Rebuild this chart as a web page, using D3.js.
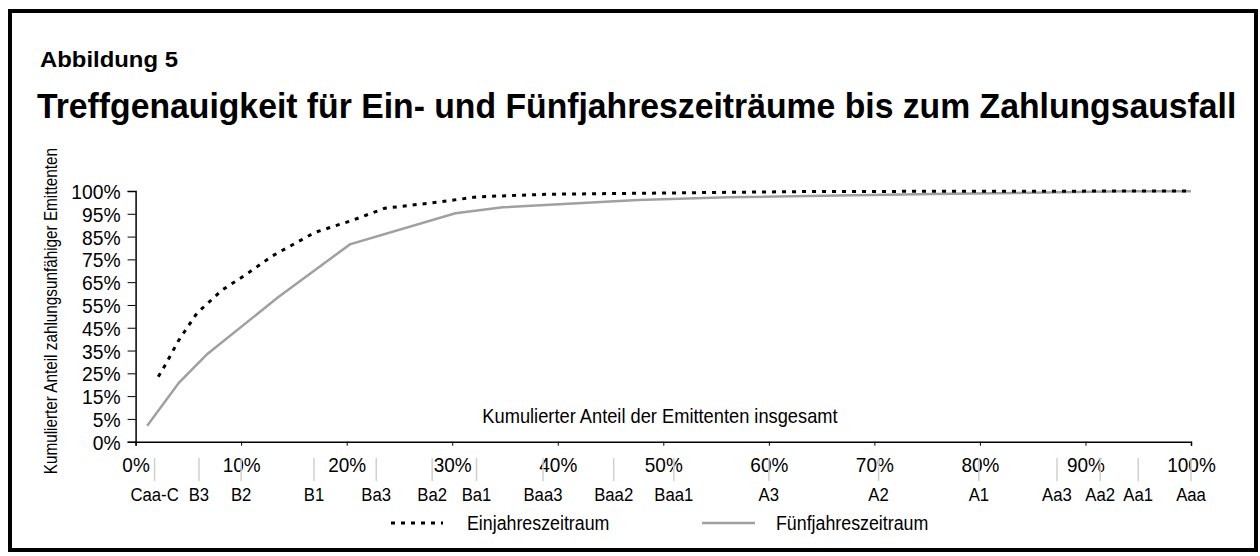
<!DOCTYPE html>
<html>
<head>
<meta charset="utf-8">
<script src="https://cdn.jsdelivr.net/npm/d3@7"></script>
<style>
  body { margin: 0; background: #fff; }
  svg text { font-family: "Liberation Sans", Arial, sans-serif; fill: #000; }
</style>
</head>
<body>
<svg></svg>
<script>
// cumulative accuracy profile, 1 year vs 5 years

var xTicks = [0, 0.1, 0.2, 0.3, 0.4, 0.5, 0.6, 0.7, 0.8, 0.9, 1.0];
var yTickLabels = ['0%', '5%', '15%', '25%', '35%', '45%', '55%', '65%', '75%', '85%', '95%', '100%'];

var ratingLabels = ['Caa-C', 'B3', 'B2', 'B1', 'Ba3', 'Ba2', 'Ba1', 'Baa3', 'Baa2', 'Baa1',
                    'A3', 'A2', 'A1', 'Aa3', 'Aa2', 'Aa1', 'Aaa'];
var ratingPos = [0.018, 0.060, 0.100, 0.169, 0.228, 0.281, 0.323, 0.386, 0.453, 0.510,
                 0.600, 0.704, 0.799, 0.873, 0.914, 0.950, 1.0];

// Einjahreszeitraum (dotted)
var einX = [0.0215, 0.029, 0.0405, 0.058, 0.082, 0.105, 0.130, 0.170, 0.206, 0.236, 0.277, 0.325, 0.389, 0.478, 0.640, 0.800, 1.0];
var einY = [0.259, 0.313, 0.402, 0.512, 0.605, 0.668, 0.742, 0.835, 0.884, 0.931, 0.951, 0.977, 0.987, 0.991, 0.998, 0.999, 1.0];

// Fuenfjahreszeitraum (grey solid)
var fuenfX = [0.011, 0.041, 0.068, 0.135, 0.203, 0.303, 0.348, 0.476, 0.562, 0.756, 0.850, 0.936, 1.0];
var fuenfY = [0.064, 0.235, 0.350, 0.576, 0.787, 0.911, 0.935, 0.964, 0.975, 0.988, 0.993, 0.999, 0.999];

var width = 1260;
var height = 556;
var svg = d3.select('svg')
    .attr('width', width)
    .attr('height', height);

// narrow look: squeeze glyphs horizontally (no condensed font installed)
function squeeze(sel, k, pre) {
  sel.each(function() {
    var t = d3.select(this);
    var x0 = +t.attr('x') || 0;
    t.attr('x', x0 / k)
     .attr('transform', (pre || '') + ` scale(${k},1)`);
  });
}
// squeeze a text so it is exactly w pixels wide
function fitTo(sel, w) {
  var len = sel.node().getComputedTextLength();
  squeeze(sel, w / len);
}

// frame
svg.append('rect')
    .attr('x', 10).attr('y', 11)
    .attr('width', 1246).attr('height', 539)
    .attr('fill', 'none')
    .attr('stroke', '#000')
    .attr('stroke-width', 4);

svg.append('text')
    .attr('x', 40).attr('y', 67)
    .attr('font-size', 22).attr('font-weight', 'bold')
    .text('Abbildung 5')
    .call(fitTo, 138);

svg.append('text')
    .attr('x', 37).attr('y', 118)
    .attr('font-size', 35).attr('font-weight', 'bold')
    .text('Treffgenauigkeit für Ein- und Fünfjahreszeiträume bis zum Zahlungsausfall')
    .call(fitTo, 1200);

var x = d3.scaleLinear().domain([0, 1]).range([135.6, 1191]);
var y = d3.scaleLinear().domain([0, 1]).range([441.7, 191]);
// y labels sit on equally spaced ticks
var yTick = d3.scaleLinear().domain([0, yTickLabels.length - 1]).range([441.7, 191]);

// y axis
var yAxis = d3.axisLeft(yTick)
    .tickValues(d3.range(yTickLabels.length))
    .tickFormat(i => yTickLabels[i])
    .tickSize(8)
    .tickPadding(7);
var gy = svg.append('g')
    .attr('transform', `translate(${x(0)},0)`)
    .call(yAxis);
gy.select('.domain').attr('stroke', '#000').attr('stroke-width', 1.5);
gy.selectAll('.tick line').attr('stroke', '#000');
gy.selectAll('text').attr('font-size', 21).attr('dy', '0.36em').call(squeeze, 0.92);

// x axis
var xAxis = d3.axisBottom(x)
    .tickValues(xTicks)
    .tickFormat(d3.format('.0%'))
    .tickSize(4)
    .tickPadding(12);
var gx = svg.append('g')
    .attr('transform', `translate(0,${y(0)})`)
    .call(xAxis);
gx.select('.domain').attr('stroke', '#000').attr('stroke-width', 1.5);
gx.selectAll('.tick line').attr('stroke', '#000');
gx.selectAll('text').attr('font-size', 20).call(squeeze, 0.95);

// rating marks
svg.append('g').selectAll('line')
    .data(ratingPos)
    .enter()
    .append('line')
      .attr('x1', d => x(d)).attr('x2', d => x(d))
      .attr('y1', 458).attr('y2', 481)
      .attr('stroke', '#d0d0d0')
      .attr('stroke-width', 1.5);

svg.append('g').selectAll('text')
    .data(ratingLabels)
    .enter()
    .append('text')
      .attr('x', (d, i) => x(ratingPos[i]))
      .attr('y', 501)
      .attr('text-anchor', 'middle')
      .attr('font-size', 19)
      .text(d => d)
      .call(squeeze, 0.88);

// axis titles
svg.append('text')
    .attr('x', 660).attr('y', 423)
    .attr('text-anchor', 'middle')
    .attr('font-size', 21)
    .text('Kumulierter Anteil der Emittenten insgesamt')
    .call(squeeze, 0.87);

svg.append('text')
    .attr('text-anchor', 'end')
    .attr('font-size', 18)
    .text('Kumulierter Anteil zahlungsunfähiger Emittenten')
    .call(squeeze, 0.85, 'translate(57,148) rotate(-90)');

// lines
var line = d3.line()
    .x(d => x(d[0]))
    .y(d => y(d[1]));

svg.append('path')
    .datum(d3.zip(fuenfX, fuenfY))
    .attr('d', line)
    .attr('fill', 'none')
    .attr('stroke', '#a0a0a0')
    .attr('stroke-width', 2.5);

svg.append('path')
    .datum(d3.zip(einX, einY))
    .attr('d', line)
    .attr('fill', 'none')
    .attr('stroke', '#000')
    .attr('stroke-width', 3)
    .attr('stroke-dasharray', '4,6');

// legend
var legend = [
  { name: 'Einjahreszeitraum', x1: 391, x2: 443, tx: 467, color: '#000', dash: '4,6', w: 3 },
  { name: 'Fünfjahreszeitraum', x1: 702, x2: 755, tx: 776, color: '#a0a0a0', dash: null, w: 2.5 }
];
var lg = svg.append('g').selectAll('g')
    .data(legend)
    .enter()
    .append('g');
lg.append('line')
    .attr('x1', d => d.x1).attr('x2', d => d.x2)
    .attr('y1', 523).attr('y2', 523)
    .attr('stroke', d => d.color)
    .attr('stroke-width', d => d.w)
    .attr('stroke-dasharray', d => d.dash);
lg.append('text')
    .attr('x', d => d.tx).attr('y', 530)
    .attr('font-size', 20)
    .text(d => d.name)
    .call(squeeze, 0.89);
</script>
</body>
</html>
